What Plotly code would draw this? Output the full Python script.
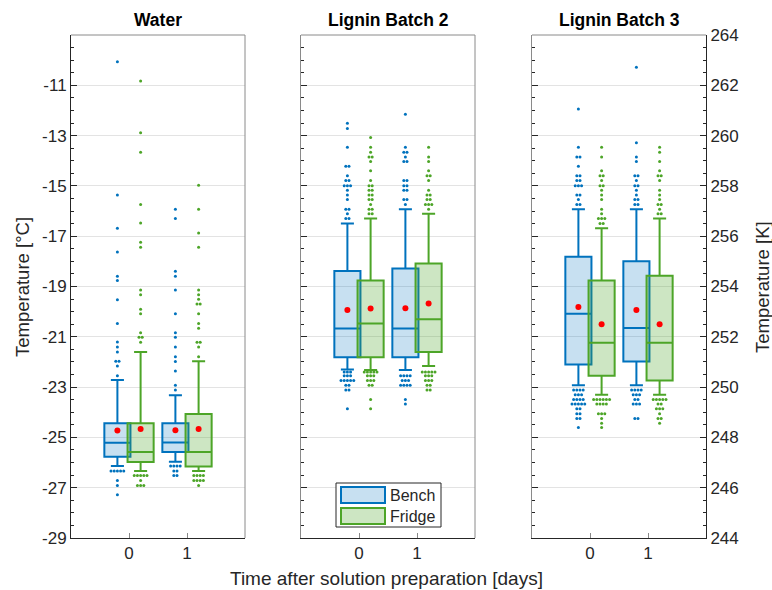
import plotly.graph_objects as go
from collections import Counter

# ---------------- data (°C) ----------------
panels = ["Water", "Lignin Batch 2", "Lignin Batch 3"]
days = [0, 1]
groups = ["Bench", "Fridge"]
c_ticks = [-29, -27, -25, -23, -21, -19, -17, -15, -13, -11]
k_ticks = [244, 246, 248, 250, 252, 254, 256, 258, 260, 262, 264]

# per panel: [day0, day1]
bench_q1 = [[-25.77, -25.58], [-21.81, -21.81], [-22.10, -21.98]]
bench_med = [[-25.21, -25.20], [-20.67, -20.67], [-20.08, -20.65]]
bench_q3 = [[-24.44, -24.44], [-18.38, -18.28], [-17.82, -18.00]]
bench_lo = [[-26.14, -25.97], [-22.30, -22.32], [-22.93, -22.93]]
bench_hi = [[-22.72, -23.32], [-16.50, -15.93], [-15.93, -15.93]]
bench_mean = [[-24.73, -24.72], [-19.93, -19.86], [-19.82, -19.93]]

fridge_q1 = [[-25.98, -26.16], [-21.81, -21.60], [-22.55, -22.74]]
fridge_med = [[-25.58, -25.58], [-20.47, -20.30], [-21.24, -21.24]]
fridge_q3 = [[-24.44, -24.07], [-18.76, -18.09], [-18.76, -18.57]]
fridge_lo = [[-26.34, -26.34], [-22.32, -22.16], [-23.30, -23.30]]
fridge_hi = [[-21.60, -21.97], [-16.30, -16.11], [-16.68, -16.30]]
fridge_mean = [[-24.67, -24.67], [-19.87, -19.68], [-20.50, -20.50]]

bench_out = [
    [  # Water
        [-10.06, -15.36, -16.68, -17.63, -18.59, -18.76, -19.53, -20.47, -21.21, -21.41,
         -21.60, -21.97, -21.97, -22.16, -22.55,
         -26.34, -26.34, -26.34, -26.34, -26.34, -26.71, -26.91, -27.28],
        [-15.93, -16.30, -18.39, -18.59, -19.14, -20.08, -20.84, -21.02, -21.41, -21.79,
         -21.98, -22.36, -22.93, -23.12,
         -26.14, -26.14, -26.14, -26.14, -26.34, -26.34, -26.51, -26.51],
    ],
    [  # Lignin Batch 2
        [-12.51, -12.72, -13.46, -14.22, -14.22, -14.60, -14.79, -14.79, -14.99, -14.99,
         -14.99, -15.17, -15.36, -15.54, -15.93, -15.93, -16.11, -16.30, -16.30,
         -22.40, -22.40, -22.40, -22.55, -22.55, -22.55, -22.74, -22.74, -22.74, -22.74,
         -22.74, -22.93, -22.93, -23.12, -23.12, -23.86],
        [-12.15, -13.46, -13.66, -13.66, -13.85, -14.03, -14.03, -14.79, -14.79, -14.99,
         -14.99, -15.17, -15.17, -15.54, -15.54, -15.74,
         -22.55, -22.55, -22.55, -22.55, -22.74, -22.74, -22.74, -22.93, -22.93, -22.93,
         -22.93, -23.49, -23.67],
    ],
    [  # Lignin Batch 3
        [-11.94, -13.46, -13.85, -13.85, -14.22, -14.60, -14.60, -14.79, -14.79, -14.99,
         -14.99, -14.99, -15.36, -15.36, -15.54, -15.74, -15.74,
         -23.12, -23.12, -23.12, -23.12, -23.30, -23.30, -23.30, -23.49, -23.49, -23.49,
         -23.49, -23.67, -23.67, -23.67, -23.67, -23.67, -23.86, -23.86, -24.06, -24.06,
         -24.25, -24.25, -24.61],
        [-10.28, -13.28, -13.85, -14.03, -14.60, -14.60, -14.79, -14.99, -14.99, -15.17,
         -15.36, -15.54, -15.54, -15.74, -15.74,
         -23.12, -23.12, -23.12, -23.12, -23.30, -23.30, -23.30, -23.49, -23.49, -23.67,
         -23.67, -23.67, -24.25, -24.25],
    ],
]

fridge_out = [
    [  # Water
        [-10.83, -12.89, -13.66, -15.74, -16.48, -17.24, -17.44, -19.14, -19.33, -19.90,
         -20.08, -20.84, -21.02, -21.02, -21.22,
         -26.51, -26.51, -26.51, -26.51, -26.51, -26.71, -26.91, -26.91, -26.91],
        [-14.97, -15.93, -16.87, -17.44, -19.14, -19.33, -19.51, -19.70, -19.70, -20.08,
         -20.47, -20.66, -21.22, -21.22, -21.41, -21.79,
         -26.51, -26.51, -26.51, -26.51, -26.71, -26.71, -26.71, -26.71, -26.91],
    ],
    [  # Lignin Batch 2
        [-13.08, -13.46, -13.66, -13.85, -13.85, -14.03, -14.40, -14.79, -14.99, -14.99,
         -15.17, -15.17, -15.36, -15.36, -15.54, -15.54, -15.74, -15.93, -15.93, -16.11,
         -16.11,
         -22.40, -22.40, -22.40, -22.40, -22.40, -22.55, -22.55, -22.55, -22.74, -22.74,
         -22.74, -22.93, -22.93, -23.49, -23.86],
        [-13.46, -13.85, -14.03, -14.40, -14.60, -14.60, -14.79, -15.17, -15.36, -15.36,
         -15.54, -15.54, -15.74, -15.74, -15.74, -15.93,
         -22.40, -22.40, -22.40, -22.40, -22.40, -22.55, -22.55, -22.55, -22.74, -22.74,
         -22.74, -22.93, -22.93, -23.12, -23.12],
    ],
    [  # Lignin Batch 3
        [-13.46, -13.85, -14.40, -14.60, -14.60, -14.79, -14.99, -14.99, -15.17, -15.36,
         -15.54, -15.93, -16.11, -16.30, -16.30, -16.30, -16.50, -16.50,
         -23.49, -23.49, -23.49, -23.49, -23.49, -23.49, -23.67, -23.67, -23.67, -23.67,
         -24.06, -24.06, -24.06, -24.25, -24.44, -24.61],
        [-13.46, -13.66, -14.03, -14.40, -14.60, -14.60, -14.79, -15.17, -15.36, -15.54,
         -15.74, -15.74, -15.93, -16.11, -16.11,
         -23.49, -23.49, -23.49, -23.49, -23.49, -23.67, -23.67, -23.86, -23.86, -23.86,
         -24.06, -24.25, -24.25, -24.44],
    ],
]

# ---------------- styling ----------------
W, H = 772, 590
FONT = "Liberation Sans, Arial, Helvetica, sans-serif"
DARK = "#262626"
BORDER = "#8a8a8a"
GRID = "#e3e3e3"
TICK_FS = 17

colors = {
    "Bench": dict(line="#0072BD", fill="rgba(0,114,189,0.22)"),
    "Fridge": dict(line="#4DA528", fill="rgba(77,165,40,0.28)"),
}
offset = {"Bench": -0.2, "Fridge": 0.2}

stats = {
    "Bench": (bench_q1, bench_med, bench_q3, bench_lo, bench_hi, bench_mean, bench_out),
    "Fridge": (fridge_q1, fridge_med, fridge_q3, fridge_lo, fridge_hi, fridge_mean, fridge_out),
}

# panel domains (pixels -> paper)
px_x = [(71, 245), (301, 475), (532, 706)]
px_top, px_bot = 35, 538
ydom = [1 - px_bot / H, 1 - px_top / H]


def jitter(vals, step=0.055):
    counts = Counter(vals)
    seen = {}
    offs = []
    for v in vals:
        n = counts[v]
        k = seen.get(v, 0)
        seen[v] = k + 1
        offs.append((k - (n - 1) / 2) * step)
    return offs


fig = go.Figure()

for p in range(len(panels)):
    xa = "x" if p == 0 else f"x{p+1}"
    ya = "y" if p == 0 else f"y{p+1}"
    for g in groups:
        q1, med, q3, lo, hi, mn, out = stats[g]
        pos = [d + offset[g] for d in days]
        fig.add_trace(go.Box(
            x=pos, q1=q1[p], median=med[p], q3=q3[p],
            lowerfence=lo[p], upperfence=hi[p],
            width=0.45, whiskerwidth=0.5, boxpoints=False,
            line=dict(color=colors[g]["line"], width=2),
            fillcolor=colors[g]["fill"],
            name=g, showlegend=False, xaxis=xa, yaxis=ya, hoverinfo="skip",
        ))
    for g in groups:
        q1, med, q3, lo, hi, mn, out = stats[g]
        for di, d in enumerate(days):
            vals = out[p][di]
            offs = jitter(vals)
            fig.add_trace(go.Scatter(
                x=[d + offset[g] + o for o in offs], y=vals, mode="markers",
                marker=dict(color=colors[g]["line"], size=3, line=dict(width=0)),
                showlegend=False, xaxis=xa, yaxis=ya, hoverinfo="skip",
            ))
    for g in groups:
        mn = stats[g][5]
        fig.add_trace(go.Scatter(
            x=[d + offset[g] for d in days], y=mn[p], mode="markers",
            marker=dict(color="#FF0000", size=6, line=dict(width=0)),
            showlegend=False, xaxis=xa, yaxis=ya, hoverinfo="skip",
        ))

# dummy trace so the Kelvin axis is drawn
fig.add_trace(go.Scatter(x=[None], y=[None], xaxis="x3", yaxis="y4",
                         showlegend=False, hoverinfo="skip"))

layout = dict(
    width=W, height=H, autosize=False,
    margin=dict(l=0, r=0, t=0, b=0, pad=0, autoexpand=False),
    paper_bgcolor="white", plot_bgcolor="white",
    font=dict(family=FONT, size=16, color=DARK),
    boxmode="overlay",
    showlegend=False,
)

minor_c = dict(dtick=0.5, ticks="inside", ticklen=3, tickcolor=DARK, showgrid=False)

for p in range(3):
    sfx = "" if p == 0 else str(p + 1)
    x0, x1 = px_x[p]
    layout["xaxis" + sfx] = dict(
        domain=[x0 / W, x1 / W], range=[-1, 2], anchor="y" + sfx, automargin=False,
        tickvals=days, ticktext=[str(d) for d in days],
        ticks="inside", ticklen=5, tickcolor="#888888",
        showline=True, linecolor=DARK, linewidth=1,
        showgrid=False, zeroline=False,
        tickfont=dict(size=TICK_FS, color=DARK, family=FONT),
    )
    layout["yaxis" + sfx] = dict(
        domain=ydom, range=[-29, -9], anchor="x" + sfx, automargin=False,
        tickmode="array", tickvals=c_ticks, ticktext=[str(v) for v in c_ticks],
        ticks="inside", ticklen=6, tickcolor=DARK,
        showticklabels=(p == 0),
        showline=True, linecolor=DARK if p == 0 else BORDER, linewidth=1,
        showgrid=True, gridcolor=GRID, gridwidth=1, zeroline=False,
        minor=dict(minor_c, tick0=-29),
        tickfont=dict(size=TICK_FS, color=DARK, family=FONT),
    )
    if p > 0:
        layout["yaxis" + sfx]["matches"] = "y"

layout["yaxis4"] = dict(
    overlaying="y3", side="right", anchor="x3", range=[244, 264], automargin=False,
    tickmode="array", tickvals=k_ticks, ticktext=[str(v) for v in k_ticks],
    ticks="inside", ticklen=6, tickcolor=DARK,
    showline=True, linecolor=DARK, linewidth=1, showgrid=False, zeroline=False,
    minor=dict(minor_c, tick0=244),
    tickfont=dict(size=TICK_FS, color=DARK, family=FONT),
)

shapes = []
for p in range(3):
    sfx = "" if p == 0 else str(p + 1)
    shapes.append(dict(type="line", xref=f"x{sfx} domain", yref=f"y{sfx} domain",
                       x0=0, x1=1, y0=1, y1=1, line=dict(color=BORDER, width=1)))
    if p < 2:
        shapes.append(dict(type="line", xref=f"x{sfx} domain", yref=f"y{sfx} domain",
                           x0=1, x1=1, y0=0, y1=1, line=dict(color=BORDER, width=1)))


# legend (drawn manually to match the patch style)
def px(xp, yp):
    return xp / W, 1 - yp / H


lx0, ly0 = px(336, 483)
lx1, ly1 = px(441, 527)
shapes.append(dict(type="rect", xref="paper", yref="paper", x0=lx0, x1=lx1, y0=ly1, y1=ly0,
                   line=dict(color=DARK, width=1), fillcolor="white", layer="above"))
leg_rows = [("Bench", 487, 503), ("Fridge", 508, 524)]
annotations = []
for name, t, b in leg_rows:
    a0, a1 = px(341, t)
    c0, c1 = px(385, b)
    shapes.append(dict(type="rect", xref="paper", yref="paper", x0=a0, x1=c0, y0=c1, y1=a1,
                       line=dict(color=colors[name]["line"], width=2),
                       fillcolor=colors[name]["fill"], layer="above"))
    tx, ty = px(388, (t + b) / 2)
    annotations.append(dict(text=name, x=tx, y=ty, xref="paper", yref="paper",
                            xanchor="left", yanchor="middle", showarrow=False,
                            font=dict(size=16, color=DARK, family=FONT)))

for p, title in enumerate(panels):
    x0, x1 = px_x[p]
    annotations.append(dict(text=f"<b>{title}</b>", x=(x0 + x1) / 2 / W, y=1 - 20 / H,
                            xref="paper", yref="paper", xanchor="center", yanchor="middle",
                            showarrow=False, font=dict(size=17.5, color="black", family=FONT)))

annotations.append(dict(text="Temperature [°C]", x=22 / W, y=1 - 287 / H, xref="paper",
                        yref="paper", textangle=-90, showarrow=False,
                        xanchor="center", yanchor="middle",
                        font=dict(size=18.5, color=DARK, family=FONT)))
annotations.append(dict(text="Temperature [K]", x=762 / W, y=1 - 287 / H, xref="paper",
                        yref="paper", textangle=-90, showarrow=False,
                        xanchor="center", yanchor="middle",
                        font=dict(size=18.5, color=DARK, family=FONT)))
annotations.append(dict(text="Time after solution preparation [days]", x=386 / W,
                        y=1 - 578 / H, xref="paper", yref="paper", showarrow=False,
                        xanchor="center", yanchor="middle",
                        font=dict(size=19, color=DARK, family=FONT)))

layout["shapes"] = shapes
layout["annotations"] = annotations
fig.update_layout(**layout)

fix_page = (
    "document.documentElement.style.margin='0px';"
    "document.documentElement.style.overflow='hidden';"
    "document.body.style.margin='0px';"
    "document.body.style.overflow='hidden';"
    "var gd=document.getElementById('{plot_id}');"
    "gd.style.position='fixed';gd.style.left='0px';gd.style.top='0px';"
)
fig.write_html("out.html", config={"displayModeBar": False}, post_script=fix_page)
